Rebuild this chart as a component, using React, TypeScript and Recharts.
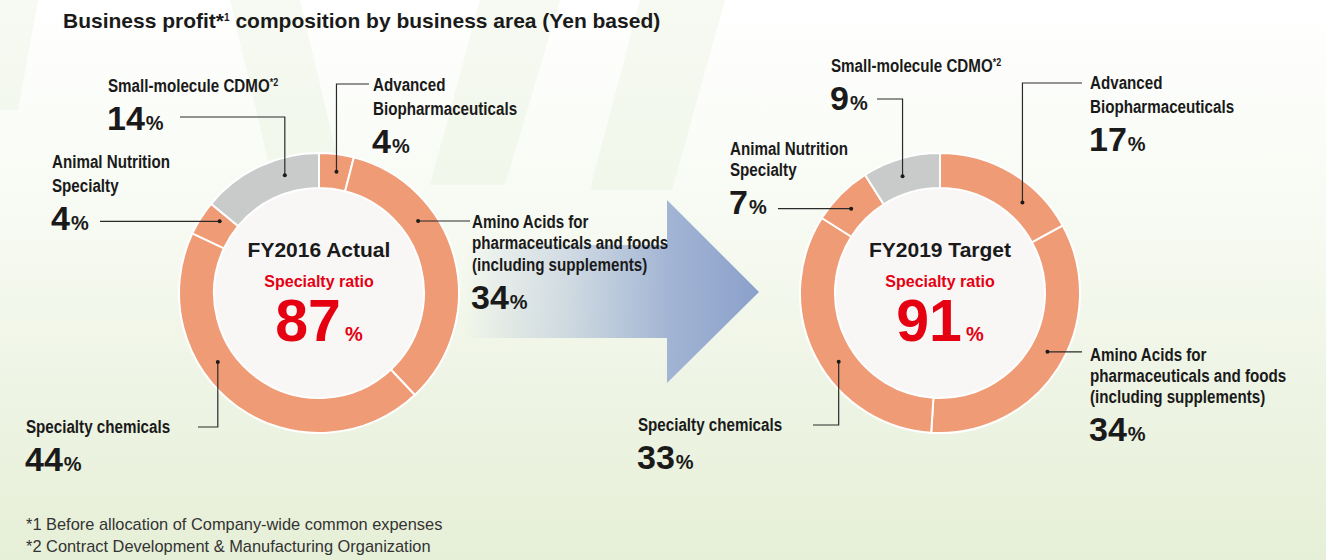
import React from 'react';
import { PieChart, Pie, Cell } from 'recharts';

// ---------- data ----------
const segmentNames = [
  'Advanced Biopharmaceuticals',
  'Amino Acids for pharmaceuticals and foods (including supplements)',
  'Specialty chemicals',
  'Animal Nutrition Specialty',
  'Small-molecule CDMO',
];
const labelTexts: string[][] = [
  ['Advanced', 'Biopharmaceuticals'],
  ['Amino Acids for', 'pharmaceuticals and foods', '(including supplements)'],
  ['Specialty chemicals'],
  ['Animal Nutrition', 'Specialty'],
  ['Small-molecule CDMO'],
];
const labelFootnoteMarks = ['', '', '', '', '*2'];
const fy2016Shares = [4, 34, 44, 4, 14];
const fy2019Shares = [17, 34, 33, 7, 9];
const chartTitles = ['FY2016 Actual', 'FY2019 Target'];
const ratioCaption = 'Specialty ratio';
const specialtyRatios = [87, 91];
const headlineParts = ['Business profit', '*', '1', ' composition by business area (Yen based)'];
const footnotes = [
  '*1 Before allocation of Company-wide common expenses',
  '*2 Contract Development & Manufacturing Organization',
];

// ---------- styles / layout ----------
const SALMON = '#EF9B75';
const GRAY = '#C9CACA';
const RED = '#E50012';
const INK = '#1A1A1A';
const segmentColors = [SALMON, SALMON, SALMON, SALMON, GRAY];
const SANS = "'Liberation Sans', Arial, Helvetica, sans-serif";
const CONDENSE = 0.82;

type LabelLayout = { x: number; y: number; lh: number; shift: number; route: 'h' | 'vh'; endX: number; elbowY?: number };
const leftLayout: LabelLayout[] = [
  { x: 373, y: 91, lh: 24, shift: 1, route: 'vh', elbowY: 84, endX: 369 },
  { x: 472, y: 228, lh: 21.5, shift: -21.6, route: 'h', endX: 470 },
  { x: 26, y: 433, lh: 24, shift: 19.7, route: 'vh', elbowY: 427, endX: 198 },
  { x: 52, y: 168, lh: 24, shift: 3.4, route: 'h', endX: 100 },
  { x: 108, y: 92, lh: 24, shift: 9, route: 'vh', elbowY: 117, endX: 180 },
];
const rightLayout: LabelLayout[] = [
  { x: 1090, y: 89, lh: 24, shift: 11.7, route: 'vh', elbowY: 83, endX: 1082 },
  { x: 1090, y: 361, lh: 21, shift: -3.7, route: 'h', endX: 1082 },
  { x: 638, y: 431, lh: 24, shift: -7.2, route: 'vh', elbowY: 425, endX: 813 },
  { x: 730, y: 155, lh: 21, shift: -1.5, route: 'h', endX: 778 },
  { x: 831, y: 72, lh: 24, shift: -1.6, route: 'vh', elbowY: 99, endX: 877 },
];

const W = 1326;
const H = 560;
const CY = 293;
const CX = [319, 940];
const RING_IN = 105;
const RING_OUT = 140;
const RAD = Math.PI / 180;

const makeData = (shares: number[]) => shares.map((v, i) => ({ name: segmentNames[i], value: v }));

function makeSegmentLabel(layout: LabelLayout[]) {
  return (props: any) => {
    const { cx, cy, midAngle, innerRadius, outerRadius, index, value } = props;
    const L = layout[index];
    const a = (midAngle - L.shift) * RAD;
    const r = (innerRadius + outerRadius) / 2;
    const px = cx + r * Math.cos(a);
    const py = cy - r * Math.sin(a);
    const pts =
      L.route === 'h'
        ? `${px},${py} ${L.endX},${py}`
        : `${px},${py} ${px},${L.elbowY} ${L.endX},${L.elbowY}`;
    const lines = labelTexts[index];
    const numY = L.y + L.lh * (lines.length - 1) + 38;
    return (
      <g key={`lbl-${index}`}>
        <polyline points={pts} fill="none" stroke="#2A2A2A" strokeWidth={1.2} />
        <circle cx={px} cy={py} r={2} fill="#1A1A1A" />
        <g transform={`matrix(${CONDENSE},0,0,1,${L.x * (1 - CONDENSE)},0)`}>
          <text x={L.x} y={L.y} fill={INK} fontFamily={SANS} fontWeight={700} fontSize={18.5}>
            {lines.map((ln, k) => (
              <tspan key={k} x={L.x} y={L.y + k * L.lh}>
                {ln}
                {k === lines.length - 1 && labelFootnoteMarks[index] ? (
                  <tspan fontSize={11} dy={-6}>{labelFootnoteMarks[index]}</tspan>
                ) : null}
              </tspan>
            ))}
          </text>
        </g>
        <text x={L.x - 1} y={numY} fill={INK} fontFamily={SANS} fontWeight={700}>
          <tspan fontSize={34}>{value}</tspan>
          <tspan fontSize={20} dx={1}>%</tspan>
        </text>
      </g>
    );
  };
}

function makeCenterLabel(chartIndex: number) {
  return (props: any) => {
    const { cx, cy } = props;
    return (
      <g key={`center-${chartIndex}`}>
        <text x={cx} y={cy - 36} textAnchor="middle" fill={INK} fontFamily={SANS} fontWeight={700} fontSize={21}>
          {chartTitles[chartIndex]}
        </text>
        <text x={cx} y={cy - 6} textAnchor="middle" fill={RED} fontFamily={SANS} fontWeight={700} fontSize={16}>
          {ratioCaption}
        </text>
        <text x={cx} y={cy + 48} textAnchor="middle" fill={RED} fontFamily={SANS} fontWeight={700}>
          <tspan fontSize={59}>{specialtyRatios[chartIndex]}</tspan>
          <tspan fontSize={20} dx={4}>%</tspan>
        </text>
      </g>
    );
  };
}

function Background() {
  return (
    <svg width={W} height={H} style={{ position: 'absolute', left: 0, top: 0 }}>
      <defs>
        <linearGradient id="bg" x1="0" y1="0" x2="0" y2="1">
          <stop offset="0%" stopColor="#FFFFFF" />
          <stop offset="35%" stopColor="#F8FBF4" />
          <stop offset="70%" stopColor="#EEF4E4" />
          <stop offset="100%" stopColor="#E6EFD7" />
        </linearGradient>
        <linearGradient id="arrowGrad" x1="465" y1="0" x2="759" y2="0" gradientUnits="userSpaceOnUse">
          <stop offset="0%" stopColor="#8EA3CD" stopOpacity={0} />
          <stop offset="30%" stopColor="#9DB0D2" stopOpacity={0.35} />
          <stop offset="70%" stopColor="#93A8CF" stopOpacity={0.85} />
          <stop offset="100%" stopColor="#8BA0CB" stopOpacity={1} />
        </linearGradient>
      </defs>
      <rect x={0} y={0} width={W} height={H} fill="url(#bg)" />
      <g fill="#E4EFD6" opacity={0.3}>
        <polygon points="0,0 38,0 18,110 0,110" />
        <polygon points="230,0 300,0 345,190 275,190" />
        <polygon points="480,0 560,0 505,185 430,185" />
        <polygon points="640,0 725,0 672,190 590,190" />
      </g>
      <polygon
        points="465,245 667,245 667,200 759,292 667,383 667,338 465,338"
        fill="url(#arrowGrad)"
      />
      <text x={63} y={28} fill={INK} fontFamily={SANS} fontWeight={700} fontSize={21}>
        {headlineParts[0]}
        <tspan>{headlineParts[1]}</tspan>
        <tspan fontSize={10} dy={-7}>{headlineParts[2]}</tspan>
        <tspan dy={7}>{headlineParts[3]}</tspan>
      </text>
      {footnotes.map((f, i) => (
        <text key={i} x={26} y={530} dy={i * 22} fill="#333333" fontFamily={SANS} fontSize={16.4}>
          {f}
        </text>
      ))}
    </svg>
  );
}

export default function App() {
  const datasets = [makeData(fy2016Shares), makeData(fy2019Shares)];
  const layouts = [leftLayout, rightLayout];
  return (
    <div style={{ position: 'absolute', left: 0, top: 0, width: W, height: H, overflow: 'hidden' }}>
      <Background />
      <div style={{ position: 'absolute', left: 0, top: 0 }}>
        <PieChart width={W} height={H} margin={{ top: 0, right: 0, bottom: 0, left: 0 }}>
          {[0, 1].map((ci) => (
            <Pie
              key={`disk-${ci}`}
              data={[{ name: chartTitles[ci], value: 1 }]}
              dataKey="value"
              cx={CX[ci]}
              cy={CY}
              innerRadius={0}
              outerRadius={RING_IN + 1}
              startAngle={90}
              endAngle={-270}
              fill="#F8F7F6"
              stroke="none"
              label={makeCenterLabel(ci)}
              labelLine={false}
              isAnimationActive={false}
            />
          ))}
          {[0, 1].map((ci) => (
            <Pie
              key={`ring-${ci}`}
              data={datasets[ci]}
              dataKey="value"
              nameKey="name"
              cx={CX[ci]}
              cy={CY}
              innerRadius={RING_IN}
              outerRadius={RING_OUT}
              startAngle={90}
              endAngle={-270}
              stroke="#FFFFFF"
              strokeWidth={2}
              label={makeSegmentLabel(layouts[ci])}
              labelLine={false}
              isAnimationActive={false}
            >
              {datasets[ci].map((d, i) => (
                <Cell key={d.name} fill={segmentColors[i]} />
              ))}
            </Pie>
          ))}
        </PieChart>
      </div>
    </div>
  );
}
